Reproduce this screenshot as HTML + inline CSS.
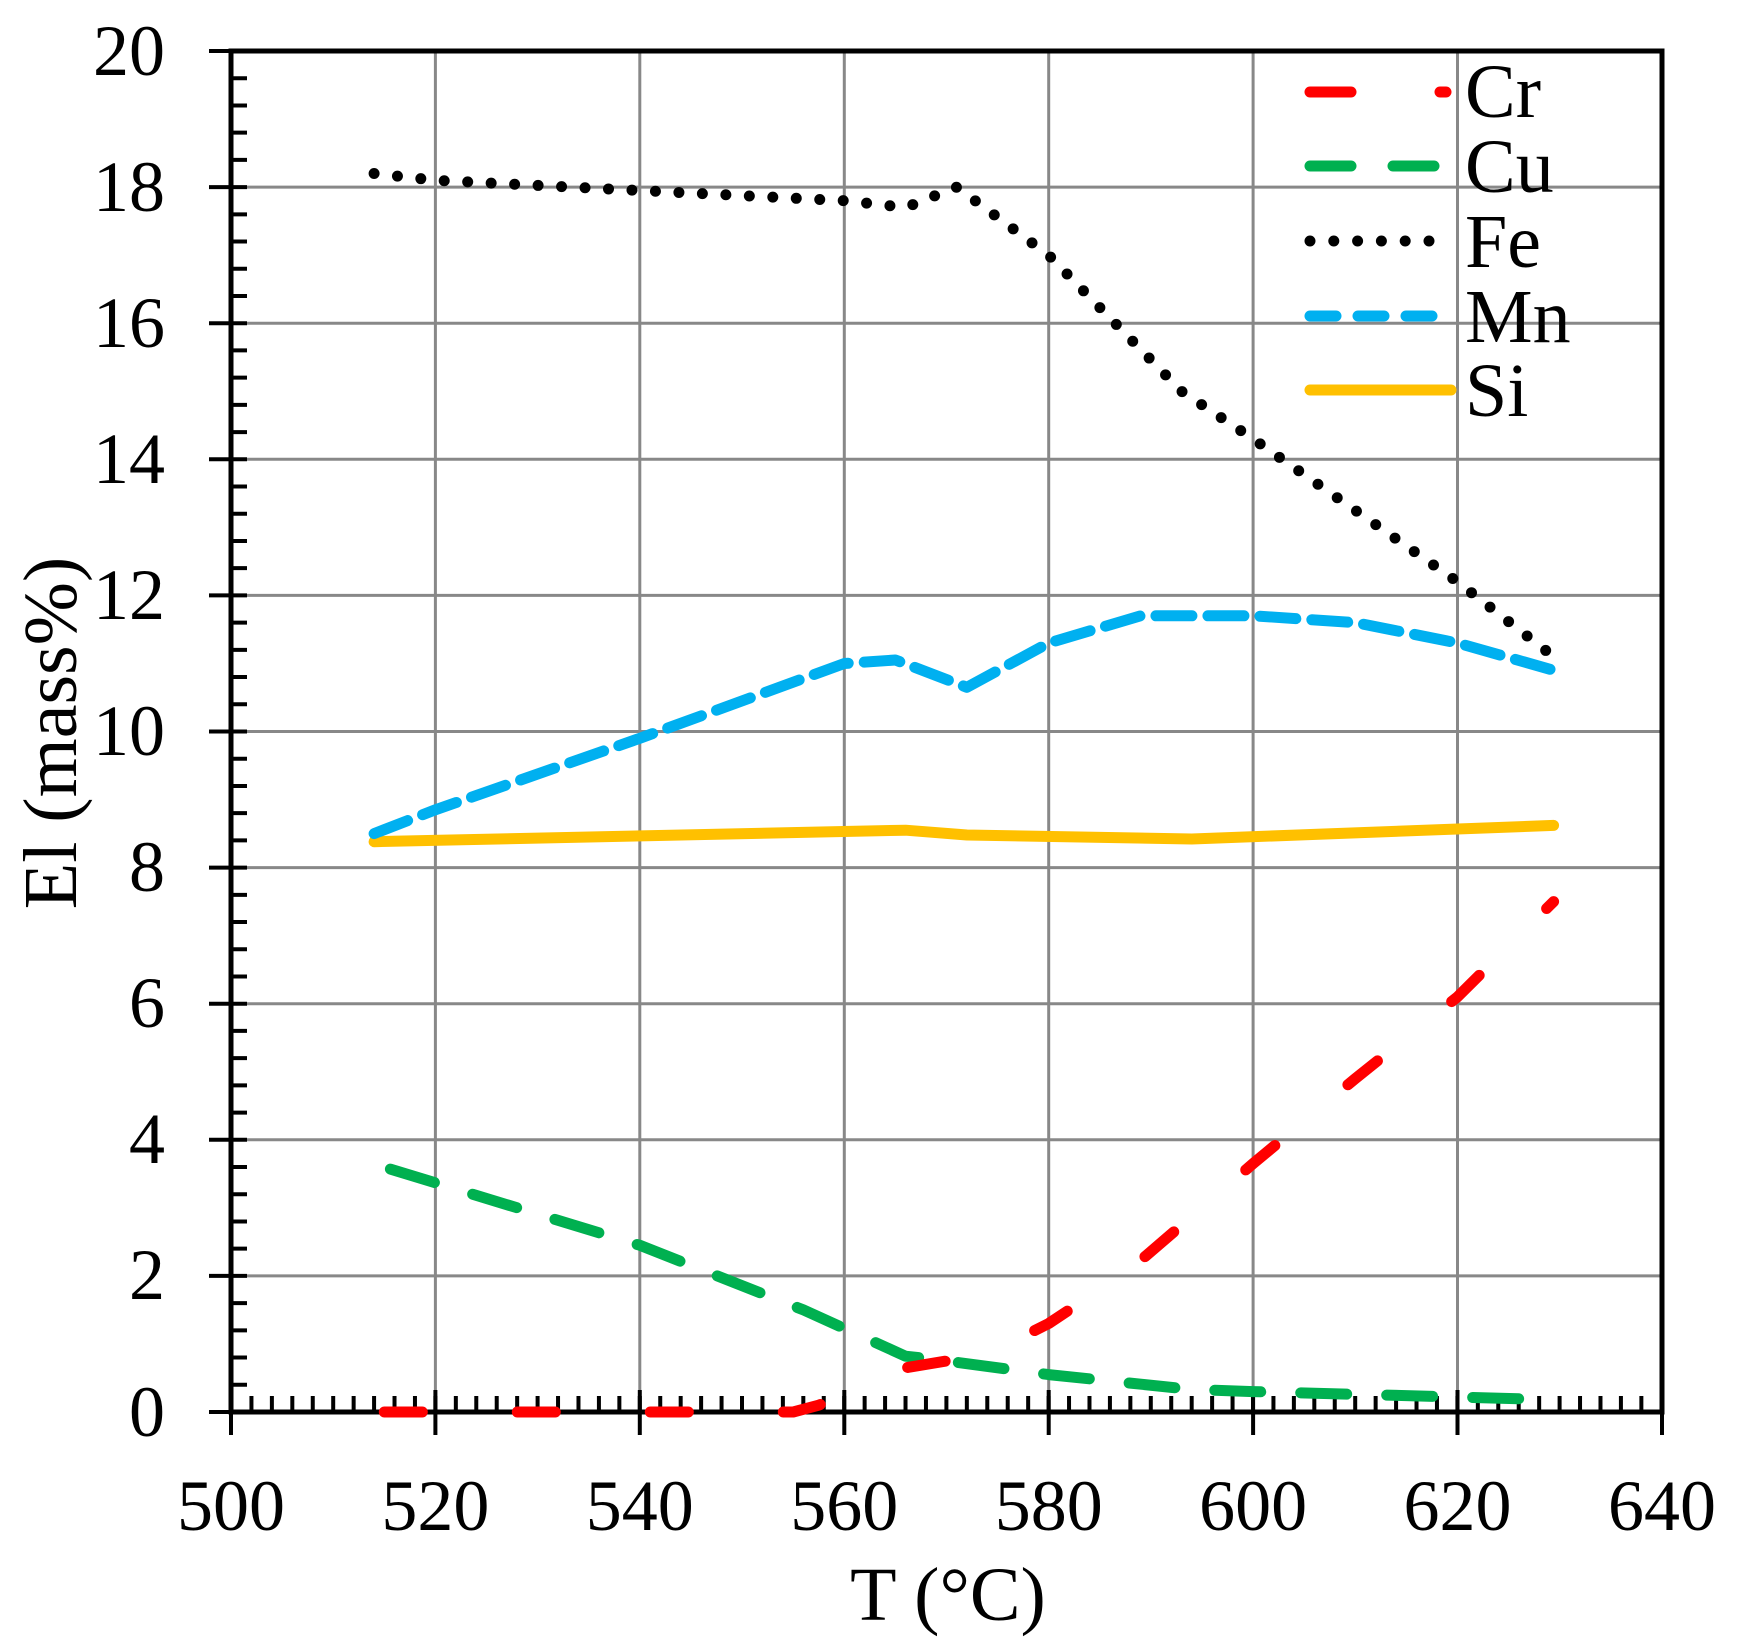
<!DOCTYPE html>
<html><head><meta charset="utf-8"><style>
html,body{margin:0;padding:0;background:#fff;}
svg{display:block;}
text{font-family:"Liberation Serif",serif;fill:#000;}
</style></head><body>
<svg width="1740" height="1644" viewBox="0 0 1740 1644" xmlns="http://www.w3.org/2000/svg">
<rect width="1740" height="1644" fill="#fff"/>
<g stroke="#888" stroke-width="3">
<line x1="435.4" y1="51" x2="435.4" y2="1412"/>
<line x1="639.8" y1="51" x2="639.8" y2="1412"/>
<line x1="844.3" y1="51" x2="844.3" y2="1412"/>
<line x1="1048.7" y1="51" x2="1048.7" y2="1412"/>
<line x1="1253.1" y1="51" x2="1253.1" y2="1412"/>
<line x1="1457.5" y1="51" x2="1457.5" y2="1412"/>
<line x1="231" y1="1275.9" x2="1662" y2="1275.9"/>
<line x1="231" y1="1139.8" x2="1662" y2="1139.8"/>
<line x1="231" y1="1003.7" x2="1662" y2="1003.7"/>
<line x1="231" y1="867.6" x2="1662" y2="867.6"/>
<line x1="231" y1="731.5" x2="1662" y2="731.5"/>
<line x1="231" y1="595.4" x2="1662" y2="595.4"/>
<line x1="231" y1="459.3" x2="1662" y2="459.3"/>
<line x1="231" y1="323.2" x2="1662" y2="323.2"/>
<line x1="231" y1="187.1" x2="1662" y2="187.1"/>
</g>
<line x1="229" y1="1404" x2="1662" y2="1404" stroke="#000" stroke-width="16" stroke-dasharray="4 16.44"/>
<line x1="239" y1="49" x2="239" y2="1412" stroke="#000" stroke-width="16" stroke-dasharray="4 23.22"/>
<g stroke="#000" stroke-width="4">
<line x1="209" y1="51" x2="231" y2="51"/><line x1="209" y1="187.1" x2="231" y2="187.1"/>
<line x1="209" y1="323.2" x2="231" y2="323.2"/><line x1="209" y1="459.3" x2="231" y2="459.3"/>
<line x1="209" y1="595.4" x2="231" y2="595.4"/><line x1="209" y1="731.5" x2="231" y2="731.5"/>
<line x1="209" y1="867.6" x2="231" y2="867.6"/><line x1="209" y1="1003.7" x2="231" y2="1003.7"/>
<line x1="209" y1="1139.8" x2="231" y2="1139.8"/><line x1="209" y1="1275.9" x2="231" y2="1275.9"/>
<line x1="209" y1="1412" x2="231" y2="1412"/>
<line x1="231" y1="1412" x2="231" y2="1435"/><line x1="435.4" y1="1390" x2="435.4" y2="1435"/>
<line x1="639.8" y1="1390" x2="639.8" y2="1435"/><line x1="844.3" y1="1390" x2="844.3" y2="1435"/>
<line x1="1048.7" y1="1390" x2="1048.7" y2="1435"/><line x1="1253.1" y1="1390" x2="1253.1" y2="1435"/>
<line x1="1457.5" y1="1390" x2="1457.5" y2="1435"/><line x1="1662" y1="1412" x2="1662" y2="1435"/>
</g>
<path d="M231 51 H1662 V1412 H231 Z" fill="none" stroke="#000" stroke-width="5"/>
<g fill="none" stroke-linecap="round" stroke-linejoin="round" stroke-width="11">
<polyline stroke="#ffc000" points="374.1,841.7 905.6,830.2 966.9,835 1191.8,839 1553.6,825.4"/>
<polyline stroke="#00b0f0" stroke-dasharray="36 16" points="374.1,833.6 435.4,809.8 639.8,738.3 844.3,663.5 895.4,660 966.9,687.3 1048.7,643 1140.7,615.8 1253.1,615.8 1355.3,622.6 1457.5,643 1553.6,670.3"/>
<polyline stroke="#000" stroke-dasharray="0 23.5" points="374.1,173.5 435.4,180.3 639.8,190.5 844.3,200.7 905.6,207.5 956.7,187.1 1048.7,255.2 1181.6,391.3 1253.1,438.9 1457.5,581.8 1553.6,656.6"/>
<polyline stroke="#00b050" stroke-dasharray="46 40" points="390.4,1169.1 639.8,1245.3 803.4,1309.9 905.6,1356.2 936.2,1359.6 1048.7,1374.6 1191.8,1389.5 1253.1,1391.6 1457.5,1397 1553.6,1399.8"/>
<polyline stroke="#ff0000" stroke-dasharray="38 95" points="384.3,1412 793.2,1412 818.7,1405.2 905.6,1367.8 946.5,1361 1007.8,1344 1048.7,1323.5 1130.5,1269.1 1253.1,1163.6 1355.3,1078.6 1457.5,996.9 1553.6,901.6"/>
</g>
<g stroke-linecap="round" stroke-width="11">
<line x1="1310" y1="92" x2="1351" y2="92" stroke="#ff0000"/>
<line x1="1440" y1="92" x2="1446" y2="92" stroke="#ff0000"/>
<line x1="1310" y1="166" x2="1351" y2="166" stroke="#00b050"/>
<line x1="1393" y1="166" x2="1434" y2="166" stroke="#00b050"/>
<line x1="1310" y1="241" x2="1434" y2="241" stroke="#000" stroke-dasharray="0 23.8"/>
<line x1="1310" y1="316" x2="1336" y2="316" stroke="#00b0f0"/>
<line x1="1358" y1="316" x2="1384" y2="316" stroke="#00b0f0"/>
<line x1="1406" y1="316" x2="1432" y2="316" stroke="#00b0f0"/>
<line x1="1310" y1="390" x2="1451" y2="390" stroke="#ffc000"/>
</g>
<g font-size="76">
<text x="1465" y="117">Cr</text>
<text x="1465" y="192">Cu</text>
<text x="1465" y="267">Fe</text>
<text x="1465" y="342">Mn</text>
<text x="1465" y="416">Si</text>
</g>
<g font-size="72" text-anchor="end">
<text x="165" y="75">20</text><text x="165" y="211">18</text>
<text x="165" y="347">16</text><text x="165" y="483">14</text>
<text x="165" y="619">12</text><text x="165" y="755">10</text>
<text x="165" y="891">8</text><text x="165" y="1027">6</text>
<text x="165" y="1163">4</text><text x="165" y="1299">2</text>
<text x="165" y="1436">0</text>
</g>
<g font-size="72" text-anchor="middle">
<text x="231" y="1530">500</text><text x="435.4" y="1530">520</text>
<text x="639.8" y="1530">540</text><text x="844.3" y="1530">560</text>
<text x="1048.7" y="1530">580</text><text x="1253.1" y="1530">600</text>
<text x="1457.5" y="1530">620</text><text x="1662" y="1530">640</text>
</g>
<text x="948" y="1620" font-size="76" text-anchor="middle">T (°C)</text>
<text transform="translate(76,733) rotate(-90)" font-size="76" text-anchor="middle">El (mass%)</text>
</svg>
</body></html>
